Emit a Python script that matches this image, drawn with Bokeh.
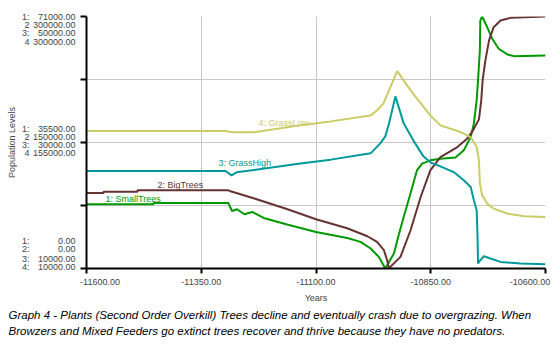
import numpy as np
from bokeh.plotting import figure
from bokeh.models import Range1d, FixedTicker, LinearAxis, Title
from bokeh.core.properties import value
from bokeh.embed import file_html
from bokeh.resources import INLINE

# ---------------- data ----------------
series_names = ["SmallTrees", "BigTrees", "GrassHigh", "GrassLow"]
scale_min = [0, 0, 10000, 10000]
scale_max = [71000, 300000, 50000, 300000]
x_ticks = [-11600, -11350, -11100, -10850, -10600]

small_t = [-11600, -11454, -11454, -11291, -11283, -11272, -11256, -11239, -11214, -11163,
           -11100, -11032, -11003, -10981, -10963, -10949, -10930, -10920, -10909, -10894,
           -10880, -10869, -10851, -10829, -10796, -10778, -10763, -10756, -10750, -10747,
           -10743, -10742, -10738, -10727, -10716, -10702, -10683, -10669, -10600]
small_v = [18100, 18100, 18460, 18460, 16210, 16690, 15280, 15930, 14240, 12380,
           10300, 8610, 7490, 5630, 3260, 0, 4300, 9370, 14520, 21190,
           27660, 29550, 30480, 30950, 31240, 33290, 37030, 40890, 47360, 52990,
           61430, 69870, 71000, 67990, 64720, 61910, 60310, 59830, 60030]

big_t = [-11600, -11563, -11563, -11489, -11489, -11291, -11286, -11236, -11162, -11100,
         -11032, -10988, -10967, -10952, -10945, -10941, -10938, -10916, -10894, -10872,
         -10851, -10829, -10792, -10771, -10759, -10745, -10740, -10737, -10731, -10723,
         -10713, -10698, -10676, -10600]
big_v = [89900, 89900, 91300, 91300, 93100, 93100, 91900, 83600, 70500, 58620,
         47920, 38400, 31630, 21760, 9870, 0, 1900, 13800, 45540, 85140,
         116900, 132700, 144600, 154600, 163300, 177500, 200100, 223900, 247700, 271500,
         287300, 295200, 298400, 300000]

high_t = [-11600, -11297, -11284, -11273, -11134, -11068, -10981, -10960, -10949, -10941,
          -10927, -10909, -10888, -10866, -10851, -10829, -10800, -10778, -10763, -10756,
          -10750, -10748, -10747, -10742, -10734, -10720, -10698, -10655, -10600]
high_v = [25470, 25470, 24790, 25270, 26650, 27280, 28280, 29870, 30980, 32990,
          37320, 33040, 30340, 27800, 26850, 26220, 25310, 24000, 22940, 20830,
          19240, 15010, 10790, 11320, 11950, 11590, 11050, 10790, 10680]

low_t = [-11600, -11297, -11282, -11238, -11134, -11068, -10981, -10967, -10953, -10938,
         -10923, -10894, -10851, -10829, -10785, -10763, -10750, -10745, -10743, -10738,
         -10727, -10713, -10683, -10647, -10600]
low_v = [168170, 168170, 166660, 166660, 174720, 179300, 186200, 191950, 200000, 218740,
         237130, 214940, 186200, 174720, 167010, 161260, 149780, 134470, 108050, 94250,
         84700, 78960, 73220, 70120, 69310]

colors = ["#009900", "#663333", "#009999", "#CCCC66"]
caption1 = "Graph 4 - Plants (Second Order Overkill) Trees decline and eventually crash due to overgrazing.  When"
caption2 = "Browzers and Mixed Feeders go extinct trees recover and thrive because they have no predators."

FONT = "Liberation Sans"
W, H = 557, 350
L, R, T, B = 86, 12, 16, 82
X0, X1 = x_ticks[0], x_ticks[-1]
FW, FH = W - L - R, H - T - B

p = figure(width=W, height=H, x_range=Range1d(X0, X1), y_range=Range1d(0, 1),
           output_backend="svg", toolbar_location=None,
           min_border_left=L, min_border_right=R, min_border_top=T, min_border_bottom=B)
p.outline_line_color = None
p.background_fill_color = "white"
p.border_fill_color = "white"

def dx(px):
    return X0 + (px - L) / FW * (X1 - X0)
def dy(py):
    return round((H - B - py) / FH, 5)

for i in range(4):
    p.extra_y_ranges["s%d" % i] = Range1d(scale_min[i], scale_max[i])

grid_y = [0, 0.25, 0.5, 0.75, 1.0]
p.xgrid.ticker = FixedTicker(ticks=x_ticks)
p.ygrid.ticker = FixedTicker(ticks=grid_y)
p.grid.grid_line_color = "#c8c8c8"
p.grid.grid_line_width = 1

def fmt(v):
    return "%.2f" % v

# ---- bottom: tick axis (no labels) + label axis ----
xa = p.xaxis[0]
xa.ticker = FixedTicker(ticks=x_ticks)
xa.major_label_overrides = {t: "" for t in x_ticks}
xa.major_label_text_font_size = "0px"
xa.major_label_standoff = 0
xa.axis_line_width = 2
xa.major_tick_line_width = 2
xa.major_tick_out = 5
xa.major_tick_in = 0
xa.minor_tick_line_color = None

# label centres (first/last shifted inward to fit, as in the original)
shift_px = [13.5, 0, 0, 0, -15.5]
xlab_pos = [round(t + s / FW * (X1 - X0), 3) for t, s in zip(x_ticks, shift_px)]
xl = LinearAxis(ticker=FixedTicker(ticks=xlab_pos),
                major_label_overrides={pos: fmt(t) for pos, t in zip(xlab_pos, x_ticks)},
                axis_line_color=None, major_tick_line_color=None, minor_tick_line_color=None,
                major_tick_out=0, major_tick_in=0, major_label_standoff=5,
                major_label_text_font=FONT, major_label_text_font_size="9px",
                axis_label="Years", axis_label_text_font=FONT, axis_label_text_font_size="9px",
                axis_label_text_font_style="normal", axis_label_standoff=5)
p.add_layout(xl, "below")

# captions
for txt in (caption1, caption2):
    p.add_layout(Title(text=txt, align="left", offset=-78, standoff=2,
                       text_font=FONT, text_font_size="11.5px", text_font_style="italic",
                       text_color="black"), "below")

# ---- left: multi-scale tick labels ----
groups = [
    (["1:", "2", "3:", "4"], [fmt(v) for v in scale_max], [16, 24.5, 33, 41.5]),
    (["1:", "2", "3:", "4"], [fmt((a + b) / 2) for a, b in zip(scale_min, scale_max)],
     [128.5, 136.5, 144.5, 152.5]),
    (["1:", "2:", "3:", "4:"], [fmt(v) for v in scale_min], [240, 249, 258, 267]),
]
ylab_pos, ylab_num, ylab_pre = [], [], []
for prefixes, vals, ys in groups:
    for pre, val, yy in zip(prefixes, vals, ys):
        pos = dy(yy)
        ylab_pos.append(pos)
        ylab_num.append(val)
        ylab_pre.append(pre)

ya = p.yaxis[0]
ya.ticker = FixedTicker(ticks=ylab_pos, minor_ticks=grid_y)
ya.major_label_overrides = dict(zip(ylab_pos, ylab_num))
ya.major_label_text_font = FONT
ya.major_label_text_font_size = "9px"
ya.major_label_standoff = 5
ya.axis_line_width = 2
ya.major_tick_line_color = None
ya.major_tick_out = 0
ya.major_tick_in = 0
ya.minor_tick_line_color = "black"
ya.minor_tick_line_width = 2
ya.minor_tick_out = 6
ya.minor_tick_in = 0

yp = LinearAxis(ticker=FixedTicker(ticks=ylab_pos),
                major_label_overrides=dict(zip(ylab_pos, ylab_pre)),
                axis_line_color=None, major_tick_line_color=None, minor_tick_line_color=None,
                major_tick_out=0, major_tick_in=0, major_label_standoff=0,
                major_label_text_font=FONT, major_label_text_font_size="9px",
                axis_label="Population Levels", axis_label_text_font=FONT,
                axis_label_text_font_size="9px", axis_label_text_font_style="normal",
                axis_label_standoff=2)
p.add_layout(yp, "left")

# series labels (beneath the lines)
lab_px = [(105, 199), (157, 185), (218, 162), (258, 123)]
for i, (lx, ly) in enumerate(lab_px):
    p.text(x=[dx(lx)], y=[dy(ly)], text=["%d: %s" % (i + 1, series_names[i])],
           text_font=value(FONT), text_font_size="9px", text_color=colors[i],
           text_baseline="middle", text_align="left")

data = [(small_t, small_v), (big_t, big_v), (high_t, high_v), (low_t, low_v)]
for i, (t, v) in enumerate(data):
    p.line(t, v, y_range_name="s%d" % i, line_color=colors[i], line_width=2)

open("out.html", "w").write(file_html(p, INLINE))
